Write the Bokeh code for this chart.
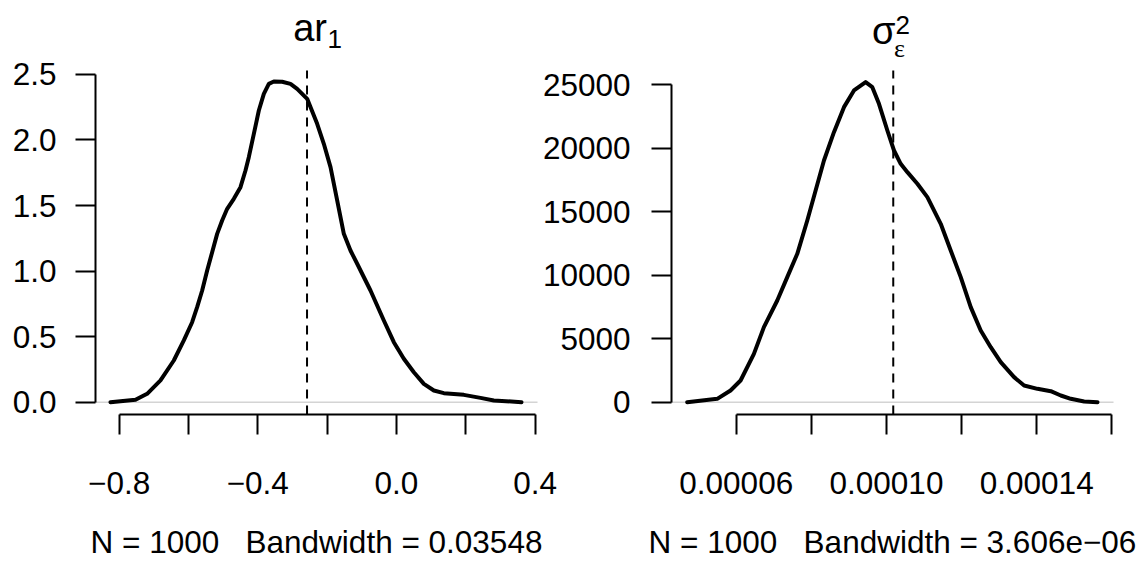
from bokeh.plotting import figure
from bokeh.models import Range1d, LinearAxis, FixedTicker, Label
from bokeh.embed import file_html
from bokeh.resources import INLINE

# ---------------- data ----------------
ar1_x = [-0.8248, -0.7527, -0.7191, -0.6806, -0.6422, -0.6133, -0.5893, -0.5749,
         -0.5604, -0.5460, -0.5316, -0.5172, -0.5028, -0.4883, -0.4691, -0.4499,
         -0.4355, -0.4259, -0.4114, -0.3970, -0.3826, -0.3682, -0.3538, -0.3297,
         -0.3057, -0.2865, -0.2576, -0.2288, -0.2096, -0.1903, -0.1711, -0.1519,
         -0.1327, -0.1134, -0.0750, -0.0365, -0.0077, 0.0211, 0.0500, 0.0788,
         0.1077, 0.1365, 0.1942, 0.2422, 0.2807, 0.3605]
ar1_y = [0.000, 0.018, 0.064, 0.166, 0.318, 0.471, 0.610, 0.725,
         0.852, 1.005, 1.144, 1.284, 1.386, 1.475, 1.551, 1.640,
         1.767, 1.869, 2.047, 2.225, 2.352, 2.428, 2.446, 2.444,
         2.428, 2.390, 2.314, 2.123, 1.971, 1.793, 1.539, 1.284,
         1.157, 1.056, 0.852, 0.623, 0.458, 0.331, 0.229, 0.140,
         0.089, 0.069, 0.056, 0.033, 0.013, 0.000]

sig_x = [4.694e-5, 5.493e-5, 5.848e-5, 6.115e-5, 6.470e-5, 6.736e-5, 7.092e-5,
         7.358e-5, 7.625e-5, 7.891e-5, 8.113e-5, 8.335e-5, 8.601e-5, 8.868e-5,
         9.134e-5, 9.445e-5, 9.623e-5, 9.800e-5, 1.0023e-4, 1.0200e-4, 1.0378e-4,
         1.0556e-4, 1.0822e-4, 1.1088e-4, 1.1444e-4, 1.1710e-4, 1.1977e-4,
         1.2243e-4, 1.2509e-4, 1.2776e-4, 1.3042e-4, 1.3397e-4, 1.3664e-4,
         1.4019e-4, 1.4375e-4, 1.4641e-4, 1.4907e-4, 1.5263e-4, 1.5618e-4]
sig_y = [0, 265, 922, 1709, 3810, 5910, 8011,
         9849, 11687, 14313, 16676, 19039, 21271, 23240,
         24553, 25209, 24815, 23503, 21402, 19826, 18776,
         18120, 17201, 16150, 14050, 11949, 9849,
         7486, 5648, 4335, 3153, 1972, 1315,
         1053, 869, 528, 265, 55, 0]

ar1_mark = -0.258
sig_mark = 1.018e-4

ar1_xticks = [-0.8, -0.6, -0.4, -0.2, 0.0, 0.2, 0.4]
ar1_xlabels = ["\u22120.8", "", "\u22120.4", "", "0.0", "", "0.4"]
ar1_yticks = [0.0, 0.5, 1.0, 1.5, 2.0, 2.5]
ar1_ylabels = ["0.0", "0.5", "1.0", "1.5", "2.0", "2.5"]

sig_xticks = [6e-5, 8e-5, 1e-4, 1.2e-4, 1.4e-4, 1.6e-4]
sig_xlabels = ["0.00006", "", "0.00010", "", "0.00014", ""]
sig_yticks = [0, 5000, 10000, 15000, 20000, 25000]
sig_ylabels = ["0", "5000", "10000", "15000", "20000", "25000"]

ar1_title = ("ar", "1")
sig_title = ("\u03c3", "\u03b5", "2")
# non-breaking spaces keep the wide gap (SVG collapses ordinary runs of spaces)
ar1_sub = "N = 1000\u00a0\u00a0 Bandwidth = 0.03548"
sig_sub = "N = 1000\u00a0\u00a0 Bandwidth = 3.606e\u221206"

# ---------------- layout ----------------
FONT = "Liberation Sans"
LBL = "31.5px"
W, H = 1146, 565
L_BOX = (95.0, 537.0, 70.0, 414.0)     # left plot region (px): x0, x1, y0(top), y1(bottom)
R_BOX = (671.0, 1113.0, 70.0, 414.0)   # right plot region

xlim_l = (-0.868, 0.4066)
ylim_l = (-0.0938, 2.530)
xlim_r = (4.276e-5, 1.6044e-4)
ylim_r = (-969.0, 26127.0)


def full_range(lim, a, b, total, flip=False):
    # the whole canvas is the frame; extend the region limits to the canvas edges
    ppu = (b - a) / (lim[1] - lim[0])
    if not flip:
        start = lim[0] - a / ppu
    else:
        start = lim[0] - (total - b) / ppu
    return Range1d(start, start + total / ppu), ppu


xr_l, ppu_l = full_range(xlim_l, L_BOX[0], L_BOX[1], W)
yr_l, ppy_l = full_range(ylim_l, L_BOX[2], L_BOX[3], H, flip=True)
xr_r, ppu_r = full_range(xlim_r, R_BOX[0], R_BOX[1], W)
yr_r, ppy_r = full_range(ylim_r, R_BOX[2], R_BOX[3], H, flip=True)

p = figure(width=W, height=H, x_range=xr_l, y_range=yr_l,
           x_axis_type=None, y_axis_type=None,
           output_backend="svg", toolbar_location=None,
           min_border=0, min_border_left=0, min_border_right=0,
           min_border_top=0, min_border_bottom=0)
p.extra_x_ranges = {"rx": xr_r}
p.extra_y_ranges = {"ry": yr_r}
p.outline_line_color = None
p.background_fill_color = "white"
p.border_fill_color = "white"


def style(ax, standoff):
    ax.axis_line_width = 2
    ax.axis_line_color = "black"
    ax.major_tick_line_width = 2
    ax.major_tick_line_color = "black"
    ax.major_tick_out = 20
    ax.major_tick_in = 0
    ax.minor_tick_line_color = None
    ax.major_label_text_font = FONT
    ax.major_label_text_font_size = LBL
    ax.major_label_text_color = "black"
    ax.major_label_standoff = standoff


# left panel axes
ly = LinearAxis(fixed_location=xlim_l[0],
                ticker=FixedTicker(ticks=ar1_yticks), bounds=(ar1_yticks[0], ar1_yticks[-1]),
                major_label_overrides=dict(zip(ar1_yticks, ar1_ylabels)))
style(ly, 19)
p.add_layout(ly, "left")
lx = LinearAxis(fixed_location=ylim_l[0],
                ticker=FixedTicker(ticks=ar1_xticks), bounds=(ar1_xticks[0], ar1_xticks[-1]),
                major_label_overrides=dict(zip(ar1_xticks, ar1_xlabels)))
style(lx, 37)
p.add_layout(lx, "below")

# right panel axes
ry_ax = LinearAxis(x_range_name="rx", y_range_name="ry", fixed_location=xlim_r[0],
                   ticker=FixedTicker(ticks=sig_yticks), bounds=(sig_yticks[0], sig_yticks[-1]),
                   major_label_overrides=dict(zip(sig_yticks, sig_ylabels)))
style(ry_ax, 21)
p.add_layout(ry_ax, "left")
rx_ax = LinearAxis(x_range_name="rx", y_range_name="ry", fixed_location=ylim_r[0],
                   ticker=FixedTicker(ticks=sig_xticks), bounds=(sig_xticks[0], sig_xticks[-1]),
                   major_label_overrides=dict(zip(sig_xticks, sig_xlabels)))
style(rx_ax, 37)
p.add_layout(rx_ax, "below")

# zero lines
p.segment(x0=[xlim_l[0]], x1=[xlim_l[1]], y0=[0], y1=[0], line_color="#d4d4d4", line_width=1.5)
p.segment(x0=[xlim_r[0]], x1=[xlim_r[1]], y0=[0], y1=[0], line_color="#d4d4d4", line_width=1.5,
          x_range_name="rx", y_range_name="ry")

# dashed markers (span the plot region height)
p.segment(x0=[ar1_mark], x1=[ar1_mark], y0=[ylim_l[0]], y1=[ylim_l[1]], line_color="black",
          line_width=2, line_dash="9 7")
p.segment(x0=[sig_mark], x1=[sig_mark], y0=[ylim_r[0]], y1=[ylim_r[1]], line_color="black",
          line_width=2, line_dash="9 7", x_range_name="rx", y_range_name="ry")

# density curves
p.line(ar1_x, ar1_y, line_color="black", line_width=4, line_join="round", line_cap="round")
p.line(sig_x, sig_y, line_color="black", line_width=4, line_join="round", line_cap="round",
       x_range_name="rx", y_range_name="ry")


# helpers: pixel offsets within each plot region -> data values
def lxv(px):
    return xlim_l[0] + px / ppu_l


def lyv(py):
    return ylim_l[1] - py / ppy_l


def rxv(px):
    return xlim_r[0] + px / ppu_r


def ryv(py):
    return ylim_r[1] - py / ppy_r


# titles
p.add_layout(Label(x=lxv(231.5), y=lyv(-43), text=ar1_title[0], text_align="right",
                   text_baseline="alphabetic", text_font=FONT, text_font_size="38px",
                   text_color="black"))
p.add_layout(Label(x=lxv(232), y=lyv(-32), text=ar1_title[1], text_align="left",
                   text_baseline="alphabetic", text_font=FONT, text_font_size="26px",
                   text_color="black"))
p.add_layout(Label(x=rxv(224), y=ryv(-40), text=sig_title[0], text_align="right",
                   text_baseline="alphabetic", text_font=FONT, text_font_size="38px",
                   text_color="black", x_range_name="rx", y_range_name="ry"))
p.add_layout(Label(x=rxv(222.5), y=ryv(-22), text=sig_title[1], text_align="left",
                   text_baseline="alphabetic", text_font="Liberation Serif",
                   text_font_size="26px", text_color="black",
                   x_range_name="rx", y_range_name="ry"))
p.add_layout(Label(x=rxv(224), y=ryv(-46), text=sig_title[2], text_align="left",
                   text_baseline="alphabetic", text_font=FONT, text_font_size="26px",
                   text_color="black", x_range_name="rx", y_range_name="ry"))

# sub-titles
p.add_layout(Label(x=(xlim_l[0] + xlim_l[1]) / 2, y=lyv(471.5), text=ar1_sub, text_align="center",
                   text_baseline="alphabetic", text_font=FONT, text_font_size=LBL,
                   text_color="black"))
p.add_layout(Label(x=(xlim_r[0] + xlim_r[1]) / 2, y=ryv(471.5), text=sig_sub, text_align="center",
                   text_baseline="alphabetic", text_font=FONT, text_font_size=LBL,
                   text_color="black", x_range_name="rx", y_range_name="ry"))

open("out.html", "w").write(file_html(p, INLINE))
